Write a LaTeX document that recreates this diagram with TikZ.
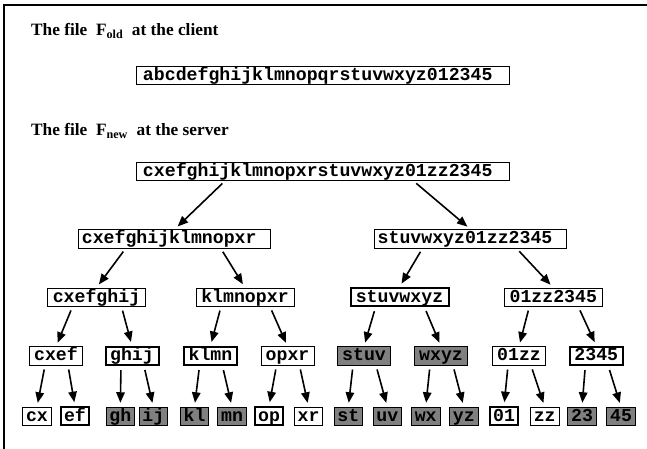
\documentclass[tikz,border=0pt]{standalone}
\usepackage{fontspec}
\setmainfont{Liberation Serif}
\newfontfamily\monofont{Liberation Mono}
\usetikzlibrary{arrows.meta}
\begin{document}
\begin{tikzpicture}[x=1pt,y=-1pt,
  cell/.style={draw=black, line width=0.8pt, fill=white,
    font=\monofont\bfseries\fontsize{18.2}{18}\selectfont,
    inner xsep=3pt, inner ysep=0pt, text height=14pt, text depth=4.3pt},
  heavy/.style={cell, line width=2pt},
  shaded/.style={cell, fill=black!50},
  wide/.style={minimum width=373pt},
  lvone/.style={minimum width=190pt},
  lvtwo/.style={minimum width=98pt},
  lvthree/.style={minimum width=53pt},
  lvfour/.style={minimum width=28.5pt},
  arr/.style={line width=1.6pt, -{Triangle[length=10.5pt,width=8.5pt]},
    shorten <=4pt, shorten >=4pt},
  title/.style={anchor=base west, inner sep=0pt,
    font=\bfseries\fontsize{17.3}{20}\selectfont}
]
\useasboundingbox (0,0) rectangle (647,449);

% frame edges along the top and the left side
\draw[line width=1.6pt] (4,449) -- (4,4.8) -- (647,4.8);

% headings
\node[title] (hold) at (31,36) {The file\ \ F\textsubscript{old}\ \ at the client};
\node[title] (hnew) at (31,136) {The file\ \ F\textsubscript{new}\ \ at the server};

% old file
\node[cell,wide] (fold) at (323.2,75.7) {abcdefghijklmnopqrstuvwxyz012345\hphantom{0}};

% new file, split into a binary tree of blocks
\node[cell,wide] (root) at (323.2,171.2) {cxefghijklmnopxrstuvwxyz01zz2345\hphantom{0}};

\node[cell,lvone] (a) at (174.7,238.8) {cxefghijklmnopxr\hphantom{0}};
\node[cell,lvone] (b) at (470.5,238.8) {stuvwxyz01zz2345\hphantom{0}};

\node[cell,lvtwo]  (aa) at (96.5,297.2)  {cxefghij};
\node[cell,lvtwo]  (ab) at (245,297.2)   {klmnopxr};
\node[heavy,lvtwo] (ba) at (399.5,297.2) {stuvwxyz};
\node[cell,lvtwo]  (bb) at (553.3,297.2) {01zz2345};

\node[cell,lvthree]   (aaa) at (56,356)    {cxef};
\node[heavy,lvthree]  (aab) at (132,356)   {ghij};
\node[heavy,lvthree]  (aba) at (210.5,356) {klmn};
\node[cell,lvthree]   (abb) at (287.5,356) {opxr};
\node[shaded,lvthree] (baa) at (364,356)   {stuv};
\node[shaded,lvthree] (bab) at (441,356)   {wxyz};
\node[cell,lvthree]   (bba) at (519,356)   {01zz};
\node[heavy,lvthree]  (bbb) at (596.3,356) {2345};

\node[cell,lvfour]   (aaaa) at (37,416.3)    {cx};
\node[heavy,lvfour]  (aaab) at (75,416.3)    {ef};
\node[shaded,lvfour] (aaba) at (120.3,416.3) {gh};
\node[shaded,lvfour] (aabb) at (153.3,416.3) {ij};
\node[shaded,lvfour] (abaa) at (194.5,416.3) {kl};
\node[shaded,lvfour] (abab) at (232,416.3)   {mn};
\node[heavy,lvfour]  (abba) at (269,416.3)   {op};
\node[cell,lvfour]   (abbb) at (308.5,416.3) {xr};
\node[shaded,lvfour] (baaa) at (348.3,416.3) {st};
\node[shaded,lvfour] (baab) at (387.3,416.3) {uv};
\node[shaded,lvfour] (baba) at (425.7,416.3) {wx};
\node[shaded,lvfour] (babb) at (463.8,416.3) {yz};
\node[heavy,lvfour]  (bbaa) at (504,416.3)   {01};
\node[cell,lvfour]   (bbab) at (544.7,416.3) {zz};
\node[shaded,lvfour] (bbba) at (582,416.3)   {23};
\node[shaded,lvfour] (bbbb) at (621,416.3)   {45};

% tree edges
\draw[arr] ([xshift=-98pt]root.south) -- (a.north);
\draw[arr] ([xshift=90pt]root.south)  -- (b.north);

\draw[arr] ([xshift=-49pt]a.south) -- (aa.north);
\draw[arr] ([xshift=46pt]a.south)  -- (ab.north);
\draw[arr] ([xshift=-48pt]b.south) -- (ba.north);
\draw[arr] ([xshift=46pt]b.south)  -- (bb.north);

\foreach \p/\l/\r in {aa/aaa/aab, ab/aba/abb, ba/baa/bab, bb/bba/bbb} {
  \draw[arr] ([xshift=-24pt]\p.south) -- (\l.north);
  \draw[arr] ([xshift=25pt]\p.south)  -- (\r.north);
}

\foreach \p/\l/\r in {aaa/aaaa/aaab, aab/aaba/aabb, aba/abaa/abab, abb/abba/abbb,
                      baa/baaa/baab, bab/baba/babb, bba/bbaa/bbab, bbb/bbba/bbbb} {
  \draw[arr] ([xshift=-11pt]\p.south) -- (\l.north);
  \draw[arr] ([xshift=12pt]\p.south)  -- (\r.north);
}
\end{tikzpicture}
\end{document}
